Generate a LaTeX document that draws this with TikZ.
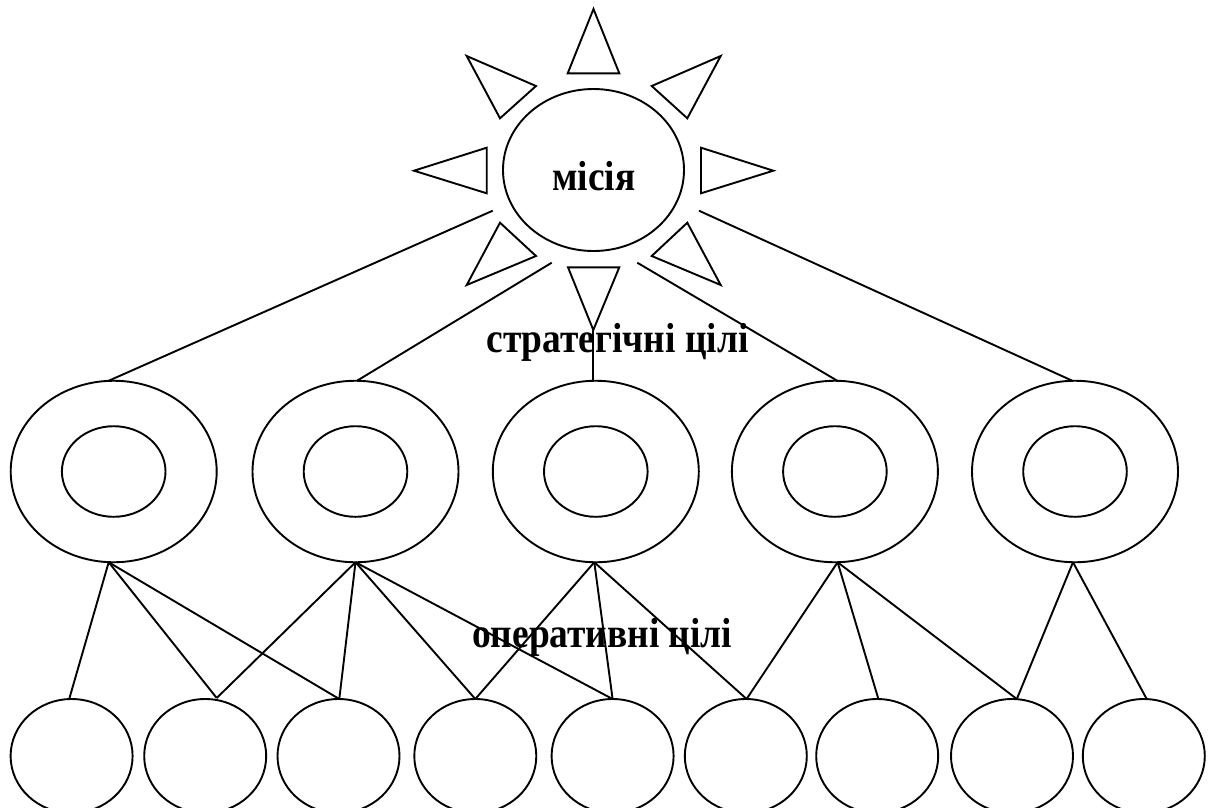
\documentclass[tikz,border=0pt]{standalone}
\usepackage{fontspec}
\setmainfont{Liberation Serif}
\usetikzlibrary{shapes.geometric}
\begin{document}
\begin{tikzpicture}[x=1pt,y=-1pt,
  line width=1.9pt,
  every node/.style={outer sep=0pt, inner sep=0pt},
  sunoval/.style={ellipse, draw, minimum width=181pt, minimum height=162pt},
  outerring/.style={ellipse, draw, minimum width=206pt, minimum height=181.5pt},
  innerring/.style={ellipse, draw, minimum width=103.6pt, minimum height=90.6pt},
  leaf/.style={ellipse, draw, minimum width=122pt, minimum height=114pt},
  ray/.style={draw, line join=miter},
  link/.style={draw},
  caption/.style={font=\bfseries\fontsize{42}{46}\selectfont, anchor=base}
]
\useasboundingbox (0,0) rectangle (1208,807);

% mission at the centre of the sun
\node[sunoval] (sun) at (593.5,170) {};
\node[caption] (mission) at (594,190) {\scalebox{0.89}[1]{місія}};

% rays of the sun
\draw[ray] (593.5,9) -- (619.3,73.3) -- (567.7,73.3) -- cycle;
\draw[ray] (466.7,56) -- (536,86) -- (500,118.3) -- cycle;
\draw[ray] (720.7,56) -- (651.7,86) -- (687.3,118.3) -- cycle;
\draw[ray] (414,170.7) -- (486.7,147.7) -- (486.7,193.3) -- cycle;
\draw[ray] (773.3,170.7) -- (701,147.7) -- (701,193.3) -- cycle;
\draw[ray] (500,222.7) -- (536,256) -- (466.7,285) -- cycle;
\draw[ray] (687.3,222.7) -- (651.7,256) -- (720.7,285) -- cycle;
\coordinate (rayS) at (593.3,330);
\draw[ray] (568,267.3) -- (619.3,267.3) -- (rayS) -- cycle;

% strategic goals: double rings
\foreach \i/\x in {1/113.7, 2/355.5, 3/595.8, 4/834.9, 5/1075} {
  \node[outerring] (r\i) at (\x,471.5) {};
  \node[innerring] (ri\i) at (\x,471.5) {};
}

% operational goals
\foreach \i/\x in {1/71.6, 2/205.2, 3/338.5, 4/475.3, 5/612.6, 6/745.8, 7/877.2, 8/1012, 9/1143.8} {
  \node[leaf] (c\i) at (\x,756) {};
}

% links from the sun to the strategic goals
\coordinate (s1) at (492.7,210.7);
\coordinate (s2) at (551.7,262.7);
\coordinate (s4) at (637.3,262.7);
\coordinate (s5) at (699,210.7);
\draw[link] (s1) -- ([xshift=-5pt]r1.north);
\draw[link] (s2) -- ([xshift=1.5pt]r2.north);
\draw[link] (rayS) -- ([xshift=-2.5pt]r3.north);
\draw[link] (s4) -- ([xshift=2.4pt]r4.north);
\draw[link] (s5) -- ([xshift=-2.7pt]r5.north);

% links from strategic to operational goals
\coordinate (b1) at ([xshift=-5pt]r1.south);
\coordinate (b2) at (r2.south);
\coordinate (b3) at ([xshift=-1.5pt]r3.south);
\coordinate (b4) at ([xshift=2.7pt]r4.south);
\coordinate (b5) at ([xshift=-2pt]r5.south);
\coordinate (t1) at ([xshift=-2.4pt]c1.north);
\coordinate (t2) at ([xshift=11.5pt,yshift=1pt]c2.north);
\coordinate (t3) at ([xshift=0.8pt]c3.north);
\coordinate (t4) at (c4.north);
\coordinate (t5) at (c5.north);
\coordinate (t6) at ([xshift=0.8pt]c6.north);
\coordinate (t7) at ([xshift=1.2pt]c7.north);
\coordinate (t8) at ([xshift=4.8pt]c8.north);
\coordinate (t9) at ([xshift=2.9pt]c9.north);
\foreach \r/\t in {b1/t1, b1/t2, b1/t3,
                   b2/t2, b2/t3, b2/t4, b2/t5,
                   b3/t4, b3/t5, b3/t6,
                   b4/t6, b4/t7, b4/t8,
                   b5/t8, b5/t9}
  \draw[link] (\r) -- (\t);

% level captions
\node[caption] (strategic) at (617.5,352.3) {\scalebox{0.89}[1]{стратегічні цілі}};
\node[caption] (operational) at (602.2,647.3) {\scalebox{0.89}[1]{оперативні цілі}};
\end{tikzpicture}
\end{document}
